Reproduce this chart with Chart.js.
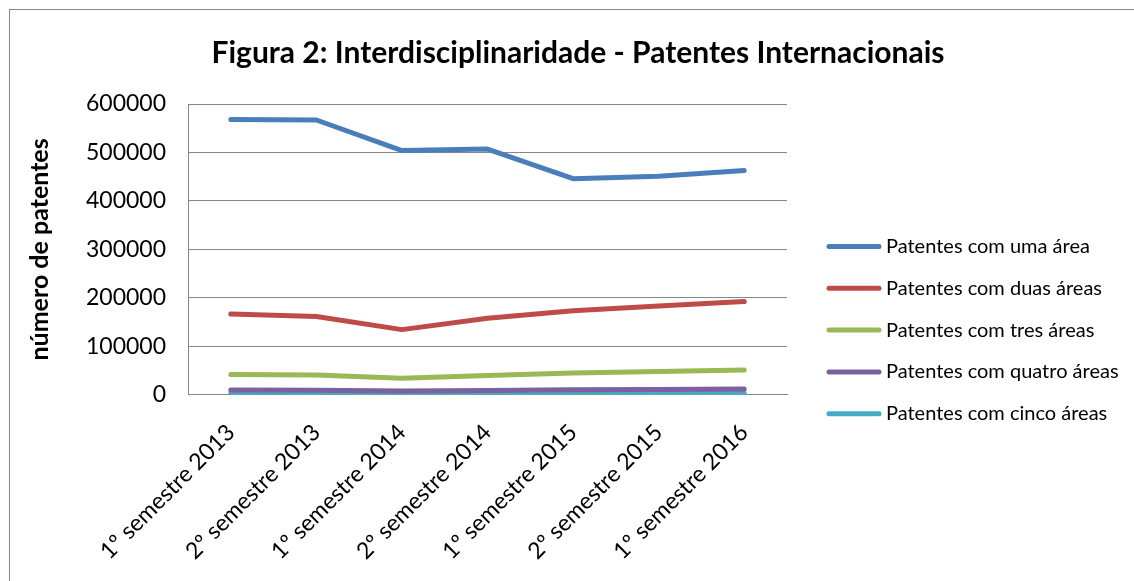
<!DOCTYPE html>
<html>
<head>
<meta charset="utf-8">
<script src="https://cdn.jsdelivr.net/npm/chart.js@4"></script>
<style>
  html, body { margin: 0; padding: 0; background: #ffffff; }
  body { width: 1134px; height: 581px; position: relative; overflow: hidden; }
  #frame { position: absolute; left: 9px; top: 9px; width: 1140px; height: 600px; border: 1px solid #868686; }
  #wrap { position: absolute; left: 0; top: 0; width: 1134px; height: 581px; }
</style>
</head>
<body>
<div id="frame"></div>
<div id="wrap"><canvas id="chart"></canvas></div>
<script>
// Categorias (semestres)
const categories = [
    '1º semestre 2013', '2º semestre 2013', '1º semestre 2014', '2º semestre 2014',
    '1º semestre 2015', '2º semestre 2015', '1º semestre 2016'
];

// Valores
const umaArea = [568000, 567000, 504000, 507000, 446000, 451000, 463000];
const duasAreas = [166500, 161500, 134500, 158000, 173500, 183000, 192500];
const tresAreas = [42000, 41000, 34000, 40000, 45000, 48000, 51000];
const quatroAreas = [10000, 9500, 8000, 9000, 10500, 11000, 12000];
const cincoAreas = [2500, 2300, 2000, 2200, 2500, 2700, 3000];

const yTicks = [0, 100000, 200000, 300000, 400000, 500000, 600000];

const seriesNames = [
    'Patentes com uma área', 'Patentes com duas áreas', 'Patentes com tres áreas',
    'Patentes com quatro áreas', 'Patentes com cinco áreas'
];
const seriesColors = ['#4a7ebb', '#be4b48', '#98b954', '#7d60a0', '#46aac5'];
const seriesData = [umaArea, duasAreas, tresAreas, quatroAreas, cincoAreas];

const fontFamily = 'Lato, "Open Sans", sans-serif';

const datasets = seriesData.map((values, i) => ({
    label: seriesNames[i],
    data: values,
    borderColor: seriesColors[i],
    backgroundColor: seriesColors[i],
    borderWidth: 5,
    borderCapStyle: 'round',
    borderJoinStyle: 'round',
    pointRadius: 0,
    pointHoverRadius: 0,
    tension: 0,
    fill: false
}));

// Legenda desenhada à mão, à direita (a legenda nativa fica estreita demais)
const sideLegend = {
    id: 'sideLegend',
    afterDraw(chart) {
        const ctx = chart.ctx;
        const x0 = chart.chartArea.right + 42;
        ctx.save();
        ctx.font = '20px ' + fontFamily;
        ctx.textBaseline = 'middle';
        ctx.textAlign = 'left';
        chart.data.datasets.forEach((ds, i) => {
            const y = 246.5 + i * 41.8;
            ctx.strokeStyle = ds.borderColor;
            ctx.lineWidth = 5;
            ctx.lineCap = 'round';
            ctx.beginPath();
            ctx.moveTo(x0, y);
            ctx.lineTo(x0 + 50, y);
            ctx.stroke();
            ctx.fillStyle = '#000000';
            ctx.fillText(ds.label, x0 + 57, y);
        });
        ctx.restore();
    }
};

new Chart(document.getElementById('chart'), {
    type: 'line',
    data: {
        labels: categories,
        datasets: datasets
    },
    options: {
        responsive: true,
        maintainAspectRatio: false,
        animation: false,
        layout: {
            padding: { top: 0, left: 25, right: 3, bottom: 0 }
        },
        plugins: {
            title: {
                display: true,
                text: 'Figura 2: Interdisciplinaridade - Patentes Internacionais',
                color: '#000000',
                font: { family: fontFamily, size: 30, weight: 'bold' },
                padding: { top: 35, bottom: 33 }
            },
            legend: { display: false },
            tooltip: { enabled: false }
        },
        scales: {
            x: {
                offset: true,
                grid: { display: false },
                border: { display: true, color: '#868686', width: 1 },
                ticks: {
                    color: '#000000',
                    maxRotation: 45,
                    minRotation: 45,
                    padding: 16,
                    font: { family: fontFamily, size: 23 }
                }
            },
            y: {
                min: 0,
                max: 600000,
                afterBuildTicks: (scale) => {
                    scale.ticks = yTicks.map(v => ({ value: v }));
                },
                grid: { color: '#868686', lineWidth: 1, drawTicks: false },
                border: { display: true, color: '#868686', width: 1 },
                ticks: {
                    color: '#000000',
                    padding: 22,
                    font: { family: fontFamily, size: 23 },
                    callback: (value) => String(value)
                },
                title: {
                    display: true,
                    text: 'número de patentes',
                    color: '#000000',
                    padding: { top: 0, bottom: 9 },
                    font: { family: fontFamily, size: 25, weight: 'bold' }
                }
            },
            // espaço reservado para a legenda
            y2: {
                position: 'right',
                display: true,
                grid: { display: false },
                border: { display: false },
                ticks: { display: false },
                afterFit: (scale) => { scale.width = 344; }
            }
        }
    },
    plugins: [sideLegend]
});
</script>
</body>
</html>
